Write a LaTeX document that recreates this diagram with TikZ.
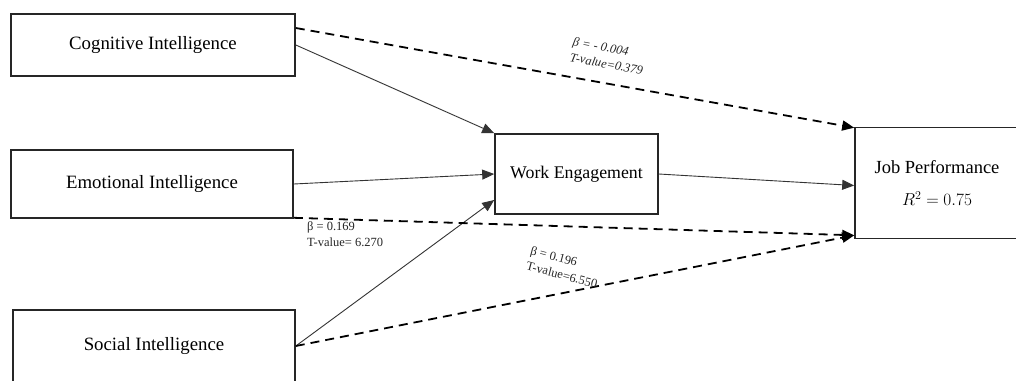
\documentclass[tikz,border=0pt]{standalone}
\usepackage{fontspec}
\setmainfont{Liberation Serif}
\usetikzlibrary{arrows.meta}
\begin{document}
\begin{tikzpicture}[x=1pt,y=-1pt,
  box/.style={draw=black!85,line width=1.6pt,minimum width=#1,inner sep=0pt,font=\fontsize{18.8}{22}\selectfont},
  solidarrow/.style={draw=black!80,line width=0.9pt,-{Triangle[length=12pt,width=10pt]}},
  dasharrow/.style={draw=black,line width=1.8pt,dash pattern=on 9pt off 6pt,-{Triangle[length=12pt,width=10pt]}},
  lab/.style={font=\fontsize{12.5}{16}\selectfont,align=left,inner sep=0pt,text=black!85}]
\useasboundingbox (0,0) rectangle (1016,380);
\fill[white] (0,0) rectangle (1016,380);
\node[box=284pt,minimum height=62pt] (cog) at (153,45) {Cognitive Intelligence};
\node[box=282pt,minimum height=68pt] (emo) at (152,184) {Emotional Intelligence};
\node[box=282pt,minimum height=72pt] (soc) at (154,346) {Social Intelligence};
\node[box=163pt,minimum height=80pt,font=\fontsize{17.8}{21}\selectfont] (we) at (576.5,174) {Work Engagement};
\node[box=164pt,minimum height=111pt,align=center,font=\fontsize{18.5}{32}\selectfont] (jp) at (937,183) {Job Performance\\$R^2 = 0.75$};
% solid paths
\draw[solidarrow] (cog.east) -- (we.north west);
\draw[solidarrow] (emo.east) -- (we.west);
\draw[solidarrow] (soc.east) -- ([yshift=-26pt]we.west);
\draw[solidarrow] (we.east) -- ([yshift=-2.5pt]jp.west);
% dashed paths
\draw[dasharrow] ([yshift=17pt]cog.east) -- ([yshift=-1pt]jp.north west);
\draw[dasharrow] ([yshift=1pt]emo.south east) -- ([yshift=4pt]jp.south west);
\draw[dasharrow] (soc.east) -- ([yshift=4pt]jp.south west);
% labels
\node[lab,rotate=-11,font=\fontsize{12.5}{16}\selectfont\itshape] (l1) at (608,56) {β = - 0.004\\T-value=0.379};
\node[lab,anchor=north west] (l2) at (307,221) {β = 0.169\\T-value= 6.270};
\node[lab,rotate=-15] (l3) at (564,267) {β = 0.196\\T-value=6.550};
\end{tikzpicture}
\end{document}
